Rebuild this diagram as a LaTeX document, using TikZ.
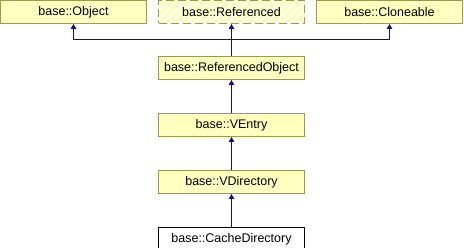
\documentclass[tikz,border=0pt]{standalone}
\usepackage{fontspec}
\setmainfont{Liberation Sans}
\usetikzlibrary{arrows.meta, positioning}

\definecolor{boxfill}{RGB}{255,255,192}
\definecolor{boxline}{RGB}{155,155,80}
\definecolor{linkblue}{RGB}{16,16,140}

\tikzset{
    cls/.style={draw=boxline, fill=boxfill, line width=1pt, minimum width=146pt, minimum height=23pt, inner sep=0pt,
        font=\fontsize{12.5}{15}\selectfont},
    leaf/.style={cls, draw=black, fill=white},
    hatched/.style={cls, fill=white, dash pattern=on 8pt off 4pt,
        path picture={
            \foreach \k in {-32,-24,...,160}
                \draw[boxfill!92!yellow, line width=3pt, solid] ([xshift=\k pt]path picture bounding box.south west) -- ++(32pt,32pt);
        }},
    inh/.style={linkblue, line width=1pt, -{Triangle[length=5pt,width=5.5pt]}}
}

\begin{document}
\begin{tikzpicture}[x=1pt, y=1pt]
    \useasboundingbox (0,0) rectangle (464,-248);

    % base classes
    \node[cls] (obj) at (73.5,-12) {base::Object};
    \node[hatched] (ref) at (231.5,-12) {base::Referenced};
    \node[cls] (clone) at (389.5,-12) {base::Cloneable};

    % chain down to the leaf class
    \node[cls] (refobj) at (231.5,-68) {base::ReferencedObject};
    \node[cls, below=33pt of refobj] (ventry) {base::VEntry};
    \node[cls, below=33pt of ventry] (vdir) {base::VDirectory};
    \node[leaf, below=33pt of vdir] (cache) {base::CacheDirectory};

    % inheritance links
    \coordinate (fork) at (231.5,-39.5);
    \draw[inh] (fork) -| (obj.south);
    \draw[inh] (fork) -| (clone.south);
    \draw[inh] (refobj.north) -- (ref.south);
    \draw[inh] (ventry) -- (refobj);
    \draw[inh] (vdir) -- (ventry);
    \draw[inh] (cache) -- (vdir);
\end{tikzpicture}
\end{document}
